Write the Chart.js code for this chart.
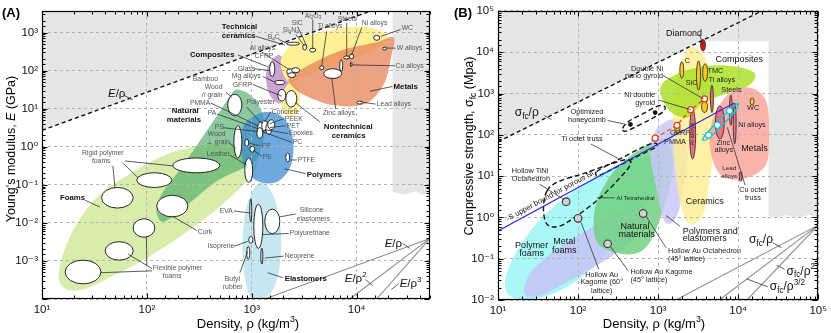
<!DOCTYPE html>
<html>
<head>
<meta charset="utf-8">
<script src="https://cdn.jsdelivr.net/npm/chart.js@4.4.1/dist/chart.umd.min.js"></script>
<style>
  html, body { margin: 0; padding: 0; background: #fff; overflow: hidden; }
  #wrap { position: relative; width: 831px; height: 333px; }
  canvas { position: absolute; top: 0; }
  #chartA { left: 0; }
  #chartB { left: 415px; }
</style>
</head>
<body>
<div id="wrap">
  <canvas id="chartA" width="436" height="333"></canvas>
  <canvas id="chartB" width="416" height="333"></canvas>
</div>
<script>
// Two Ashby-style property maps (modulus and strength vs density) on log-log axes.
// Values are [density kg/m3, property]; label anchors use P(log10 density, log10 property).

const P = (a, b) => [10 ** a, 10 ** b];

// ---------- tick labels ----------
const aXLabels = [10, 100, 1000, 10000];
const aYLabels = [0.001, 0.01, 0.1, 1, 10, 100, 1000];
const bXLabels = [10, 100, 1000, 10000, 100000];
const bYLabels = [0.01, 0.1, 1, 10, 100, 1000, 10000, 100000];

// ---------- panel A: Young's modulus (GPa) ----------
const aSpecificLine = [[10, 2.7], [13700, 3700]];
const aGuideHub = [50000, 0.0039];
const aGuideEnds = [[1330, 1e-4], [8570, 1e-4], [15500, 1e-4]]; // E/rho, E/rho^2, E/rho^3
const aShade = [[10, 2.7], [13700, 3700], [10, 3700]];
const aShadeRight = [[22000, 3700], [50000, 3700], [50000, 0.065], [43000, 0.055], [36000, 0.068], [29000, 0.055], [22000, 0.065]];

const aFoams = [[15.5, 2.2e-4], [14.8, 7.4e-4], [20.6, 7.9e-3], [35.6, 0.056], [77, 0.23], [166, 0.68], [398, 1.16], [857, 1.03], [1140, 0.5], [955, 0.155], [553, 0.035], [257, 6.6e-3], [107, 1.35e-3], [44, 3.6e-4], [23, 1.7e-4]];
const aNatural = [[736, 32], [1070, 17.8], [1330, 4.0], [1190, 0.68], [955, 0.33], [445, 0.115], [166, 0.0128], [127, 0.0144], [133, 0.047], [230, 0.376], [445, 5.4], [617, 21]];
const aElastomers = [[1190, 0.115], [1550, 0.063], [1850, 0.0107], [1890, 1.35e-3], [1650, 2.2e-4], [1245, 9.3e-5], [955, 1.25e-4], [840, 5.5e-4], [820, 4.4e-3], [916, 0.035]];
const aPolymers = [[820, 3.0], [1070, 6.5], [1480, 8.2], [2060, 5.4], [2460, 1.65], [2400, 0.376], [1930, 0.145], [1420, 0.108], [1000, 0.155], [820, 0.42]];
const aComposites = [[1770, 257], [2200, 142], [2300, 43], [2060, 15.8], [1690, 14.8], [1420, 32], [1390, 105]];
const aTechCeramics = [[1970, 257], [2860, 705], [5540, 1130], [10700, 1440], [17700, 1070], [19700, 625], [13300, 307], [6890, 160], [3200, 70], [2300, 49], [1930, 105]];
const aNontechCeramics = [[2300, 49], [2800, 32], [2860, 13.2], [2570, 6.5], [2110, 7.3], [1890, 17.8]];
const aMetals = [[2300, 66], [3560, 142], [7360, 346], [15500, 556], [22500, 748], [21500, 257], [18100, 43], [11900, 13.2], [5900, 12.4], [3200, 22.5], [2400, 40.8]];

// material bubbles: [rho min, rho max, E min, E max]
const aBubbles = [
  [177, 495, 0.207, 0.506], [80, 173, 0.085, 0.207], [37, 74, 0.0245, 0.085],
  [124, 246, 0.0144, 0.053], [74, 119, 4.2e-3, 0.0128], [40, 74, 1.05e-3, 3.2e-3],
  [16.6, 36.5, 2.5e-4, 1.05e-3],
  [590, 804, 6.5, 24], [675, 804, 0.506, 3.58], [857, 1020, 0.115, 0.506],
  [857, 935, 1.03, 1.56], [957, 1070, 0.72, 1.03], [2110, 2300, 0.4, 0.68],
  [1140, 1300, 2.23, 4.5], [1245, 1420, 2.66, 4.8], [1360, 1550, 2.1, 4.3],
  [1117, 1273, 1.66, 3.18], [1420, 1655, 2.83, 5.1],
  [1480, 1655, 70, 170], [1655, 2060, 43, 55], [1770, 2110, 15.8, 32], [2110, 2690, 11, 30],
  [2150, 2510, 78, 112], [2400, 2860, 88, 119], [2200, 2620, 66, 88],
  [2150, 2860, 466, 556], [3060, 3340, 346, 493], [3560, 4070, 307, 389],
  [4450, 4850, 105, 134], [4850, 7200, 62, 112], [7520, 8570, 203, 242], [8570, 9360, 203, 273],
  [6890, 7360, 94, 191], [8770, 8950, 126, 170], [14500, 16600, 625, 841], [17700, 19300, 346, 413],
  [10000, 11400, 13.2, 15.8],
  [1330, 1850, 5.2e-3, 0.023], [1045, 1275, 2.15e-3, 0.031], [957, 1000, 0.0107, 0.042],
  [935, 1025, 2.9e-3, 4.4e-3], [895, 957, 1.1e-3, 2.4e-3], [1220, 1275, 8.3e-4, 2.15e-3],
];

const aLabels = [
  ['Technical', P(2.714, 3.157), 'b'], ['ceramics', P(2.714, 2.925), 'b'],
  ['B_{4}C', P(3.152, 2.874), 's'], ['Si_{3}N_{4}', P(3.295, 3.054), 's'], ['SiC', P(3.381, 3.26), 's'],
  ['Al_{2}O_{3}', P(3.505, 3.44), 's'], ['Ti alloys', P(3.629, 3.157), 's'], ['Steels', P(3.819, 3.36), 's'],
  ['Ni alloys', P(4.048, 3.26), 's'], ['WC', P(4.429, 3.106), 's'], ['W alloys', P(4.381, 2.59), 's'],
  ['Cu alloys', P(4.371, 2.126), 's'], ['Metals', P(4.352, 1.585), 'b'], ['Lead alloys', P(4.19, 1.12), 's'],
  ['Zinc alloys', P(3.676, 0.889), 's'], ['Nontechnical', P(3.686, 0.528), 'b'], ['ceramics', P(3.762, 0.296), 'b'],
  ['Composites', P(2.41, 2.41), 'b'], ['Al alloys', P(2.981, 2.59), 's'], ['CFRP', P(3.029, 2.384), 's'],
  ['Glass', P(2.867, 2.05), 's'], ['Mg alloys', P(2.81, 1.843), 's'], ['GFRP', P(2.819, 1.61), 's'],
  ['Bamboo', P(2.438, 1.765), 's'], ['Wood', P(2.552, 1.56), 's'], ['// grain', P(2.524, 1.353), 's'],
  ['PMMA', P(2.41, 1.147), 's'], ['Natural', P(2.238, 0.94), 'b'], ['materials', P(2.19, 0.709), 'b'],
  ['PA', P(2.581, 0.889), 's'], ['PS', P(2.648, 0.528), 's'], ['Wood', P(2.581, 0.322), 's'],
  ['⊥ grain', P(2.571, 0.116), 's'], ['Leather', P(2.571, -0.193), 's'], ['Polyester', P(2.952, 1.173), 's'],
  ['Concrete', P(3.19, 0.915), 's'], ['PEEK', P(3.314, 0.735), 's'], ['PET', P(3.333, 0.554), 's'],
  ['Epoxies', P(3.352, 0.348), 's'], ['PC', P(3.39, 0.116), 's'], ['PP', P(3.095, 0.013), 's'],
  ['PE', P(3.105, -0.27), 's'], ['PTFE', P(3.438, -0.348), 's'], ['Polymers', P(3.524, -0.735), 'b'],
  ['EVA', P(2.695, -1.688), 's'], ['Silicone', P(3.457, -1.662), 's'], ['elastomers', P(3.429, -1.894), 's'],
  ['Polyurethane', P(3.362, -2.28), 's'], ['Isoprene', P(2.581, -2.616), 's'], ['Neoprene', P(3.314, -2.874), 's'],
  ['Butyl', P(2.743, -3.466), 's'], ['rubber', P(2.724, -3.698), 's'], ['Elastomers', P(3.314, -3.466), 'b'],
  ['Cork', P(2.486, -2.255), 's'], ['Foams', P(1.171, -1.353), 'b'],
  ['Rigid polymer', P(1.381, -0.168), 's'], ['foams', P(1.476, -0.374), 's'],
  ['Flexible polymer', P(2.057, -3.183), 's'], ['foams', P(2.152, -3.39), 's'],
  ['~E~/ρ', P(1.629, 1.379), 'i'], ['~E~/ρ', P(4.267, -2.54), 'i'],
  ['~E~/ρ^{2}', P(3.886, -3.466), 'i'], ['~E~/ρ^{3}', P(4.41, -3.595), 'i'],
];

const aLeaders = [
  [P(3.038, 2.90), P(3.314, 2.67)], [P(3.257, 2.82), P(3.333, 2.72)], [P(3.419, 2.95), P(3.505, 2.64)],
  [P(3.438, 3.157), P(3.524, 2.64)], [P(3.581, 3.34), P(3.581, 2.56)], [P(3.714, 3.03), P(3.667, 2.13)],
  [P(3.905, 3.26), P(3.905, 2.38)], [P(4.048, 3.13), P(3.952, 2.41)], [P(4.419, 3.08), P(4.229, 2.90)],
  [P(4.371, 2.59), P(4.286, 2.59)], [P(4.362, 2.126), P(3.952, 2.15)], [P(4.343, 1.585), P(4.124, 1.456)],
  [P(4.181, 1.12), P(4.048, 1.17)], [P(3.8, 0.99), P(3.762, 1.82)], [P(3.648, 0.657), P(3.41, 1.17)],
  [P(2.867, 2.41), P(3.152, 2.10)], [P(3.095, 2.487), P(3.362, 2.02)], [P(3.02, 2.05), P(3.171, 2.0)],
  [P(3.105, 1.843), P(3.229, 1.688)], [P(3.01, 1.636), P(3.286, 1.327)], [P(2.752, 1.43), P(2.81, 1.30)],
  [P(2.61, 1.147), P(3.057, 0.554)], [P(2.667, 0.863), P(3.057, 0.477)], [P(2.724, 0.5), P(3.057, 0.4)],
  [P(2.781, 0.116), P(2.848, -0.04)], [P(2.79, -0.22), P(2.952, -0.48)], [P(2.952, 1.04), P(3.095, 0.606)],
  [P(3.181, 0.915), P(3.124, 0.657)], [P(3.305, 0.735), P(3.171, 0.606)], [P(3.324, 0.554), P(3.171, 0.503)],
  [P(3.343, 0.348), P(3.124, 0.451)], [P(3.381, 0.116), P(3.095, 0.4)], [P(3.086, 0.013), P(2.981, 0.09)],
  [P(3.095, -0.245), P(3.01, -0.09)], [P(3.429, -0.348), P(3.371, -0.348)], [P(3.514, -0.709), P(3.314, -0.58)],
  [P(2.829, -1.688), P(2.981, -1.74)], [P(3.419, -1.765), P(3.267, -1.843)], [P(3.352, -2.28), P(3.095, -2.307)],
  [P(2.829, -2.616), P(2.962, -2.487)], [P(3.305, -2.874), P(3.124, -2.925)], [P(2.886, -3.31), P(2.962, -2.745)],
  [P(3.295, -3.44), P(3.152, -3.31)], [P(2.476, -2.2), P(2.238, -1.82)], [P(1.41, -1.405), P(1.552, -1.585)],
  [P(1.79, -0.374), P(2.248, -0.503)], [P(1.676, -0.503), P(1.695, -1.07)], [P(1.771, -0.425), P(1.914, -0.812)],
  [P(2.0, -3.13), P(1.995, -2.35)], [P(2.048, -3.2), P(1.82, -2.82)], [P(2.048, -3.26), P(1.562, -3.31)],
  [P(1.78, 1.353), P(1.867, 1.224)], [P(4.438, -2.54), P(4.505, -2.67)], [P(4.086, -3.49), P(4.152, -3.647)],
  [P(4.40, -3.6), P(4.33, -3.75)],
];

// ---------- panel B: compressive strength (MPa) ----------
const bSpecificLine = [[10, 68], [19800, 100000]];
const bUpperBound = [[10, 0.47], [8900, 590]];
const bGuideHub = [100000, 0.65];
const bGuideEnds = [[1660, 0.01], [5800, 0.01], [12900, 0.01]]; // sigma/rho, sigma/rho^1.5, sigma/rho^2
const bShade = [[10, 68], [3400, 18400], [24000, 18400], [24000, 1.1], [30000, 0.95], [40000, 1.15], [55000, 0.95], [75000, 1.15], [100000, 1.0], [100000, 100000], [10, 100000]];

const bPolymerFoams = [[12.2, 0.0245], [16.2, 0.126], [33, 0.85], [89, 4.4], [241, 14.5], [653, 29.5], [1150, 22.4], [1000, 5.7], [566, 1.1], [241, 0.165], [103, 0.032], [38, 0.012], [16.2, 0.0108]];
const bMetalFoams = [[21.5, 0.0142], [24.8, 0.042], [44, 0.126], [103, 0.375], [278, 1.1], [566, 1.92], [753, 1.1], [491, 0.285], [182, 0.073], [67, 0.0245], [33, 0.0126]];
const bNatural = [[182, 0.22], [158, 1.1], [209, 5.7], [370, 22.4], [1000, 79], [1400, 51], [1530, 13], [1150, 1.47], [753, 0.22], [427, 0.126]];
const bPolyElast = [[1000, 151], [1770, 222], [2350, 39], [2040, 4.4], [1670, 0.95], [1220, 0.76], [1000, 3.3], [795, 39]];
const bCeramics = [[2350, 12000], [3600, 9100], [4780, 1780], [5200, 115], [4380, 7.5], [3600, 1.1], [2350, 0.76], [1770, 4.4], [1530, 115], [1670, 1780]];
const bComposites = [[1060, 1340], [1770, 3040], [4140, 4700], [9700, 4460], [16200, 3040], [13700, 1580], [7300, 1020], [3600, 590], [2350, 262], [1400, 380]];
const bMetals = [[5200, 345], [8400, 1140], [14900, 1340], [22800, 590], [24200, 66], [21500, 17], [11200, 8.4], [5800, 11.6], [4380, 66]];

const bCeramicBubbles = [[1870, 2090, 2320, 5870], [3020, 3390, 1200, 6170], [3600, 4140, 1960, 5250], [14100, 15800, 530, 780], [3490, 4140, 345, 660], [1620, 1870, 103, 200]];
const bMetalBubbles = [[4510, 4900, 345, 1590], [2480, 2940, 26, 405], [7770, 8440, 170, 915], [8680, 9440, 60, 590], [5200, 6710, 79, 500], [10300, 11200, 7.5, 13]];
const bDiamond = [[3390, 3900, 10700, 20400]];

const bHoneycomb = [[360, 143], [427, 210], [653, 325], [1000, 500], [1220, 475], [1120, 345], [753, 222], [451, 135], [380, 122]];
const bTiOctet = [[172, 13], [321, 25], [653, 51], [893, 63], [945, 51], [566, 31], [278, 15.3], [182, 10.4]];
const bAlTetra = [[41, 4.4], [58, 7.5], [119, 11.6], [241, 19], [403, 25], [451, 19], [321, 8.4], [182, 2.8], [97, 1.1], [58, 0.61], [41, 0.68], [37, 1.63]];
const bCuOctetLoop = [[3600, 79], [4380, 129], [6340, 275], [8930, 500], [10000, 561], [9180, 383], [6170, 160], [4140, 79]];

const bNiGyroids = [[918, 83], [1720, 170], [2550, 405], [3800, 740]];
const bCuOctetTruss = [[4270, 98], [5500, 170], [7800, 380]];
const bHollowLattices = [[71, 2.4], [100, 0.95], [234, 0.23], [650, 1.24]];
const bHoneycombDots = [[451, 178], [918, 345]];

const bLabels = [
  ['Diamond', P(3.099, 4.455), 'c'], ['Composites', P(3.716, 3.815), 'c'], ['C', P(3.333, 3.79), 'k'],
  ['SiC', P(3.346, 3.246), 'k'], ['TMC', P(3.617, 3.555), 'k'], ['Ti alloys', P(3.63, 3.318), 'k'],
  ['Steels', P(3.79, 3.08), 'k'], ['WC', P(4.111, 2.654), 'k'], ['Ni alloys', P(4.0, 2.227), 'k'],
  ['Zinc', P(3.728, 1.8), 'k'], ['alloys', P(3.704, 1.635), 'k'], ['Metals', P(4.037, 1.659), 'c'],
  ['GFRP', P(3.148, 2.038), 'k'], ['PMMA', P(3.074, 1.825), 'k'], ['Lead', P(3.802, 1.185), 't'],
  ['alloys', P(3.79, 0.995), 't'], ['Cu octet', P(4.012, 0.664), 'k'], ['truss', P(4.086, 0.474), 'k'],
  ['Ceramics', P(3.346, 0.379), 'c'], ['Polymers and', P(3.309, -0.332), 'c'], ['elastomers', P(3.309, -0.521), 'c'],
  ['Hollow Au Octahedron', P(3.123, -0.806), 'k'], ['(45° lattice)', P(3.123, -0.995), 'k'],
  ['Hollow Au Kagome', P(2.654, -1.327), 'k'], ['(45° lattice)', P(2.654, -1.517), 'k'],
  ['Natural', P(2.531, -0.213), 'c'], ['materials', P(2.506, -0.403), 'c'], ['Al Tetrahedral', P(2.481, 0.474), 't'],
  ['Hollow Au', P(2.296, -1.398), 'k', 'center'], ['Kagome (60°', P(2.296, -1.564), 'k', 'center'],
  ['lattice)', P(2.296, -1.777), 'k', 'center'],
  ['Polymer', P(1.42, -0.687), 'c', 'center'], ['foams', P(1.42, -0.877), 'c', 'center'],
  ['Metal', P(1.827, -0.592), 'c', 'center'], ['foams', P(1.827, -0.806), 'c', 'center'],
  ['Hollow TiNi', P(1.173, 1.114), 'k'], ['Octahedron', P(1.173, 0.924), 'k'],
  ['Ti octet truss', P(1.79, 1.896), 'k'],
  ['Optimized', P(2.111, 2.56), 'k', 'center'], ['honeycomb', P(2.111, 2.37), 'k', 'center'],
  ['Ni double', P(2.963, 2.962), 'k', 'right'], ['gyroid', P(2.963, 2.773), 'k', 'right'],
  ['Double Ni', P(3.062, 3.6), 'k', 'right'], ['nano gyroid', P(3.062, 3.412), 'k', 'right'],
  ['Al alloys', P(3.432, 2.014), 'v'],
  ['σ_{fc}/ρ', P(1.21, 2.536), 'g'], ['σ_{fc}/ρ', P(4.136, -0.545), 'g'],
  ['σ_{fc}/ρ^{2}', P(4.605, -1.303), 'g'], ['σ_{fc}/ρ^{3/2}', P(4.395, -1.682), 'g'],
];

const bLeaders = [
  [P(3.519, 4.43), P(3.556, 4.19)], [P(4.086, 0.782), P(3.864, 2.18)], [P(3.272, -0.213), P(3.099, 0.047)],
  [P(3.099, -0.735), P(2.852, 0.024)], [P(2.63, -1.303), P(2.407, -0.71)], [P(2.235, 0.474), P(2.457, 0.474)],
  [P(2.259, -1.256), P(2.037, -0.118)], [P(1.519, 0.806), P(1.827, 0.427)], [P(2.16, 1.777), P(2.506, 1.422)],
  [P(2.37, 2.346), P(2.605, 2.25)], [P(3.0, 2.844), P(3.407, 2.607)], [P(3.062, 3.436), P(3.568, 2.867)],
  [P(1.58, 2.464), P(1.667, 2.37)], [P(4.432, -0.616), P(4.543, -0.735)], [P(4.58, -1.256), P(4.48, -1.16)],
  [P(4.37, -1.682), P(4.111, -1.493)],
];

const bUpperBoundLabel = ['-S upper bound for porous Ni', P(1.111, -0.047)];

// ---------- drawing ----------
const FONT = "'Liberation Sans', Arial, 'DejaVu Sans', sans-serif";
const SUP = { '0': '⁰', '1': '¹', '2': '²', '3': '³', '4': '⁴', '5': '⁵', '6': '⁶', '7': '⁷', '8': '⁸', '9': '⁹', '-': '⁻' };
const isDecade = (v) => Math.abs(Math.log10(v) - Math.round(Math.log10(v))) < 1e-6;
const pow10 = (v) => '10' + String(Math.round(Math.log10(v))).split('').map((c) => SUP[c]).join('');

const STYLES = {
  b: { size: 7.8, weight: 'bold', color: '#111' },
  s: { size: 6.8, color: '#555' },
  i: { size: 11.5, color: '#111' },
  c: { size: 9, color: '#111' },
  k: { size: 7.3, color: '#222' },
  t: { size: 6.2, color: '#222' },
  g: { size: 12, color: '#111' },
  v: { size: 6, color: '#222', angle: -Math.PI / 2, align: 'center' },
};

function parseRich(s) {
  const out = [];
  let buf = '', it = false, i = 0;
  const push = (t, m) => { if (t) out.push({ t, m, it }); };
  while (i < s.length) {
    const c = s[i];
    if ((c === '_' || c === '^') && s[i + 1] === '{') {
      push(buf, 0); buf = '';
      const j = s.indexOf('}', i);
      push(s.slice(i + 2, j), c === '_' ? 1 : 2);
      i = j + 1;
      continue;
    }
    if (c === '~') { push(buf, 0); buf = ''; it = !it; i++; continue; }
    buf += c; i++;
  }
  push(buf, 0);
  return out;
}

function drawRich(ctx, s, x, y, o) {
  const segs = parseRich(s);
  const fontOf = (g) => `${g.it ? 'italic ' : ''}${o.weight || 'normal'} ${g.m ? o.size * 0.68 : o.size}px ${FONT}`;
  let w = 0;
  segs.forEach((g) => { ctx.font = fontOf(g); g.w = ctx.measureText(g.t).width; w += g.w; });
  ctx.save();
  ctx.translate(x, y);
  if (o.angle) ctx.rotate(o.angle);
  let cx = o.align === 'center' ? -w / 2 : o.align === 'right' ? -w : 0;
  ctx.fillStyle = o.color || '#000';
  ctx.textBaseline = 'middle';
  ctx.textAlign = 'left';
  segs.forEach((g) => {
    ctx.font = fontOf(g);
    const dy = g.m === 1 ? o.size * 0.3 : g.m === 2 ? -o.size * 0.36 : 0;
    ctx.fillText(g.t, cx, dy);
    cx += g.w;
  });
  ctx.restore();
}

function px(chart, [x, y]) {
  return [chart.scales.x.getPixelForValue(x), chart.scales.y.getPixelForValue(y)];
}

function tracePath(chart, pts, smooth) {
  const ctx = chart.ctx;
  const p = pts.map((v) => px(chart, v));
  const n = p.length;
  ctx.beginPath();
  ctx.moveTo(p[0][0], p[0][1]);
  if (!smooth) {
    for (let i = 1; i < n; i++) ctx.lineTo(p[i][0], p[i][1]);
  } else {
    for (let i = 0; i < n; i++) {
      const p0 = p[(i - 1 + n) % n], p1 = p[i], p2 = p[(i + 1) % n], p3 = p[(i + 2) % n];
      ctx.bezierCurveTo(
        p1[0] + (p2[0] - p0[0]) / 6, p1[1] + (p2[1] - p0[1]) / 6,
        p2[0] - (p3[0] - p1[0]) / 6, p2[1] - (p3[1] - p1[1]) / 6,
        p2[0], p2[1]);
    }
  }
  ctx.closePath();
}

function clipArea(chart) {
  const a = chart.chartArea;
  chart.ctx.beginPath();
  chart.ctx.rect(a.left, a.top, a.right - a.left, a.bottom - a.top);
  chart.ctx.clip();
}

function ashbyLayer(spec) {
  return {
    id: 'ashby',
    beforeDraw(chart) {
      const ctx = chart.ctx;
      ctx.save();
      clipArea(chart);
      ctx.fillStyle = '#e6e6e6';
      spec.shade.forEach((poly) => { tracePath(chart, poly, false); ctx.fill(); });
      spec.envelopes.forEach(([pts, fill]) => { tracePath(chart, pts, true); ctx.fillStyle = fill; ctx.fill(); });
      ctx.restore();
    },
    beforeDatasetsDraw(chart) {
      const ctx = chart.ctx;
      ctx.save();
      clipArea(chart);
      spec.bubbles.forEach(([list, fill, stroke]) => list.forEach(([x0, x1, y0, y1]) => {
        const [X0, Y0] = px(chart, [x0, y0]);
        const [X1, Y1] = px(chart, [x1, y1]);
        ctx.beginPath();
        ctx.ellipse((X0 + X1) / 2, (Y0 + Y1) / 2, Math.max(Math.abs(X1 - X0) / 2, 0.8), Math.max(Math.abs(Y1 - Y0) / 2, 0.8), 0, 0, Math.PI * 2);
        ctx.fillStyle = fill;
        ctx.fill();
        ctx.lineWidth = 0.9;
        ctx.strokeStyle = stroke;
        ctx.stroke();
      }));
      spec.outlines.forEach(([pts, color, dash]) => {
        tracePath(chart, pts, true);
        ctx.setLineDash(dash);
        ctx.lineWidth = 1.4;
        ctx.strokeStyle = color;
        ctx.stroke();
      });
      ctx.restore();
    },
    afterDatasetsDraw(chart) {
      const ctx = chart.ctx;
      ctx.save();
      ctx.strokeStyle = '#333';
      ctx.lineWidth = 0.8;
      spec.leaders.forEach(([a, b]) => {
        const [x1, y1] = px(chart, a);
        const [x2, y2] = px(chart, b);
        ctx.beginPath(); ctx.moveTo(x1, y1); ctx.lineTo(x2, y2); ctx.stroke();
      });
      spec.labels.forEach(([text, at, kind, align]) => {
        const [x, y] = px(chart, at);
        drawRich(ctx, text, x, y, Object.assign({ align: 'left' }, STYLES[kind], align ? { align } : {}));
      });
      if (spec.along) {
        const [text, at, ref] = spec.along;
        const [ax, ay] = px(chart, ref[0]);
        const [bx, by] = px(chart, ref[1]);
        const [x, y] = px(chart, at);
        drawRich(ctx, text, x, y, { size: 7.6, color: '#111', angle: Math.atan2(by - ay, bx - ax) });
      }
      ctx.restore();
    },
    afterDraw(chart) {
      const ctx = chart.ctx;
      const a = chart.chartArea;
      const xs = chart.scales.x, ys = chart.scales.y;
      ctx.save();
      ctx.strokeStyle = '#000';
      ctx.lineWidth = 1;
      const L = Math.round(a.left) + 0.5, R = Math.round(a.right) - 0.5;
      const T = Math.round(a.top) + 0.5, B = Math.round(a.bottom) - 0.5;
      ctx.beginPath();
      xs.ticks.forEach((t) => {
        const x = Math.round(xs.getPixelForValue(t.value)) + 0.5;
        const len = isDecade(t.value) ? 5 : 3;
        ctx.moveTo(x, B); ctx.lineTo(x, B - len);
        ctx.moveTo(x, T); ctx.lineTo(x, T + len);
      });
      ys.ticks.forEach((t) => {
        const y = Math.round(ys.getPixelForValue(t.value)) + 0.5;
        const len = isDecade(t.value) ? 5 : 3;
        ctx.moveTo(L, y); ctx.lineTo(L + len, y);
        ctx.moveTo(R, y); ctx.lineTo(R - len, y);
      });
      ctx.stroke();
      ctx.lineWidth = 1.2;
      ctx.strokeRect(L, T, R - L, B - T);
      spec.titles.forEach(([text, x, y, o]) => drawRich(ctx, text, x, y, o));
      ctx.restore();
    },
  };
}

function logAxis(min, max, labelled, fit) {
  return {
    type: 'logarithmic',
    min,
    max,
    afterFit: (s) => { if (s.isHorizontal()) s.height = fit; else s.width = fit; },
    grid: { color: (c) => (c.tick && isDecade(c.tick.value) ? '#b4b4b4' : 'rgba(0,0,0,0)'), drawTicks: false, lineWidth: 1 },
    border: { display: false, dash: [3, 3] },
    ticks: {
      autoSkip: false,
      maxRotation: 0,
      padding: 4,
      color: '#111',
      font: { family: FONT, size: 11.5 },
      callback: (v) => (labelled.some((l) => Math.abs(Math.log10(l) - Math.log10(v)) < 1e-6) ? pow10(v) : ''),
    },
  };
}

const line = (pts, style) => Object.assign({
  data: pts.map(([x, y]) => ({ x, y })), showLine: true, pointRadius: 0, borderWidth: 1, fill: false, tension: 0,
}, style);

const dots = (pts, fill, stroke, r) => ({
  data: pts.map(([x, y]) => ({ x, y })), showLine: false, pointRadius: r,
  pointBackgroundColor: fill, pointBorderColor: stroke, pointBorderWidth: 1.1,
});

function makePanel(canvas, { datasets, x, y, padding, spec }) {
  return new Chart(canvas, {
    type: 'scatter',
    data: { datasets },
    options: {
      responsive: false,
      animation: false,
      devicePixelRatio: 1,
      layout: { padding },
      plugins: { legend: { display: false }, tooltip: { enabled: false } },
      scales: { x, y },
    },
    plugins: [ashbyLayer(spec)],
  });
}

const guideStyle = { borderColor: '#8c8c8c', borderWidth: 1.1 };
const specificStyle = { borderColor: '#111', borderWidth: 1.4, borderDash: [4, 3] };

makePanel(document.getElementById('chartA'), {
  padding: { top: 5, right: 6, left: 0, bottom: 0 },
  x: logAxis(10, 50000, aXLabels, 34),
  y: logAxis(1e-4, 3700, aYLabels, 42),
  datasets: [
    line(aSpecificLine, specificStyle),
    ...aGuideEnds.map((end) => line([aGuideHub, end], guideStyle)),
  ],
  spec: {
    shade: [aShade, aShadeRight],
    envelopes: [
      [aFoams, '#d8ecab'],
      [aNatural, 'rgba(70,168,98,0.62)'],
      [aElastomers, 'rgba(190,228,240,0.9)'],
      [aPolymers, 'rgba(62,140,214,0.75)'],
      [aComposites, 'rgba(190,140,200,0.8)'],
      [aTechCeramics, '#fff096'],
      [aNontechCeramics, '#fff096'],
      [aMetals, 'rgba(232,126,80,0.72)'],
    ],
    bubbles: [[aBubbles, '#fff', '#111']],
    outlines: [],
    leaders: aLeaders,
    labels: aLabels,
    titles: [
      ['(A)', 2, 13, { size: 13, weight: 'bold' }],
      ["Young's modulus, ~E~ (GPa)", 12, 149, { size: 12.5, angle: -Math.PI / 2, align: 'center' }],
      ['Density, ρ (kg/m^{3})', 248, 324, { size: 13, align: 'center' }],
    ],
  },
});

makePanel(document.getElementById('chartB'), {
  padding: { top: 6, right: 9, left: 0, bottom: 0 },
  x: logAxis(10, 100000, bXLabels, 33),
  y: logAxis(0.01, 100000, bYLabels, 83),
  datasets: [
    dots(bHollowLattices, '#d2d2d2', '#333', 3.8),
    dots(bHoneycombDots, '#111', '#111', 1.8),
    dots(bCuOctetTruss, '#fff', '#18c4d4', 3),
    line(bNiGyroids, {
      borderColor: '#f0481a', borderDash: [4, 3], borderWidth: 1.3,
      pointRadius: 3, pointBackgroundColor: '#fff', pointBorderColor: '#e8401a', pointBorderWidth: 1.3,
    }),
    line(bUpperBound, { borderColor: '#2a2ae6', borderWidth: 1.1 }),
    line(bSpecificLine, specificStyle),
    ...bGuideEnds.map((end) => line([bGuideHub, end], guideStyle)),
  ],
  spec: {
    shade: [bShade],
    envelopes: [
      [bPolymerFoams, '#aaf8f6'],
      [bMetalFoams, 'rgba(196,196,246,0.85)'],
      [bNatural, 'rgba(112,210,128,0.85)'],
      [bPolyElast, 'rgba(200,200,250,0.85)'],
      [bCeramics, 'rgba(255,238,150,0.85)'],
      [bComposites, 'rgba(172,226,40,0.85)'],
      [bMetals, 'rgba(250,160,150,0.8)'],
    ],
    bubbles: [
      [bCeramicBubbles, '#f7cc1c', '#333'],
      [bMetalBubbles, '#ee6f80', '#333'],
      [bDiamond, '#d41a10', '#333'],
    ],
    outlines: [
      [bHoneycomb, '#111', [5, 3]],
      [bTiOctet, '#111', [5, 3]],
      [bAlTetra, '#111', [5, 3]],
      [bCuOctetLoop, '#18c4d4', []],
    ],
    leaders: bLeaders,
    labels: bLabels,
    along: [bUpperBoundLabel[0], bUpperBoundLabel[1], bUpperBound],
    titles: [
      ['(B)', 39, 13, { size: 13, weight: 'bold' }],
      ['Compressive strength, σ_{fc} (Mpa)', 55, 146, { size: 12.5, angle: -Math.PI / 2, align: 'center' }],
      ['Density, ρ (kg/m^{3})', 239, 324, { size: 13, align: 'center' }],
    ],
  },
});
</script>
</body>
</html>
